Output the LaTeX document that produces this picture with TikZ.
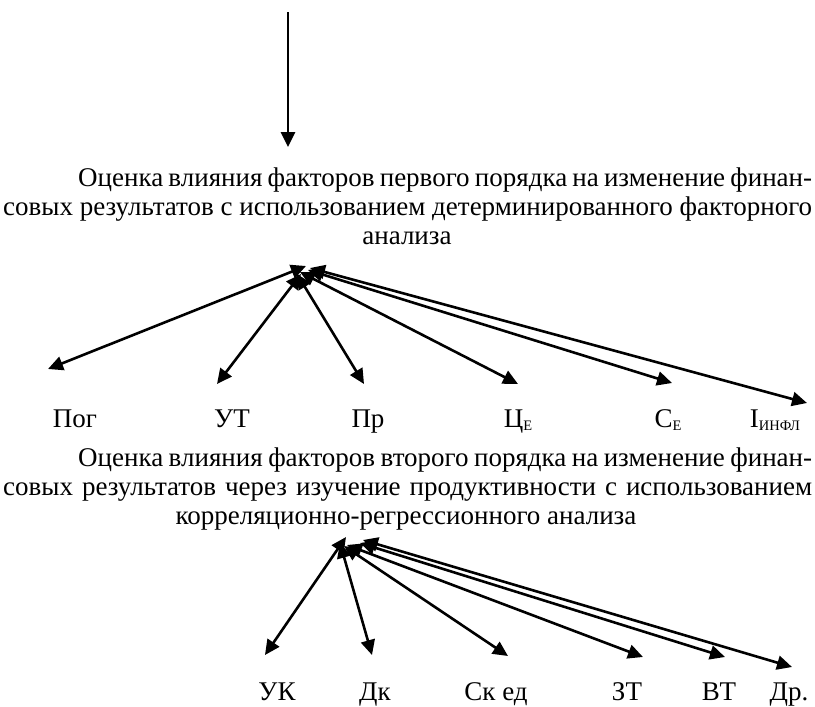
\documentclass[tikz,border=0pt]{standalone}
\usepackage{fontspec}
\setmainfont{Liberation Serif}
\usetikzlibrary{arrows.meta}
\newcommand{\sbs}[1]{\raisebox{-3.5pt}{\fontsize{14.5}{14.5}\selectfont #1}}
\tikzset{
  conn/.style={line width=2.6pt, {Triangle[length=15pt,width=14pt]}-{Triangle[length=15pt,width=14pt]}},
  oneway/.style={line width=2.6pt, -{Triangle[length=15pt,width=14pt]}},
  txt/.style={inner sep=0pt, anchor=base, font=\fontsize{27}{30}\selectfont},
  lbl/.style={inner sep=0pt, anchor=base, font=\fontsize{27}{30}\selectfont},
}
\begin{document}
\begin{tikzpicture}[x=1pt,y=-1pt]
\useasboundingbox (0,0) rectangle (815,707);
% top arrow
\coordinate (top) at (288,12);
\coordinate (topend) at (288,147);
\draw[oneway] (top) -- (topend);
% paragraph 1
\node[txt, anchor=base west] (p1a) at (78,186) {\makebox[734pt][s]{Оценка влияния факторов первого порядка на изменение финан-}};
\node[txt, anchor=base west] (p1b) at (3,215) {\makebox[809pt][s]{совых результатов с использованием детерминированного факторного}};
\node[txt] (p1c) at (407,244) {анализа};
% fan 1
\node[lbl] (pog) at (75,427) {Пог};
\node[lbl] (ut) at (232,427) {УТ};
\node[lbl] (pr) at (368,427) {Пр};
\node[lbl] (ce1) at (518,427) {Ц\sbs{Е}};
\node[lbl] (se1) at (668,427) {С\sbs{Е}};
\node[lbl] (inf) at (775,427) {I\sbs{ИНФЛ}};
\coordinate (h1a) at (306,266);
\coordinate (h1b) at (301,274);
\coordinate (h1c) at (297,274);
\coordinate (h1d) at (300,272);
\coordinate (h1e) at (308,270);
\coordinate (h1f) at (310,268);
\coordinate (e1a) at (48,369);
\coordinate (e1b) at (217,384);
\coordinate (e1c) at (364,384);
\coordinate (e1d) at (518,384);
\coordinate (e1e) at (672,383);
\coordinate (e1f) at (807,403);
\draw[conn] (h1a) -- (e1a);
\draw[conn] (h1b) -- (e1b);
\draw[conn] (h1c) -- (e1c);
\draw[conn] (h1d) -- (e1d);
\draw[conn] (h1e) -- (e1e);
\draw[conn] (h1f) -- (e1f);
% paragraph 2
\node[txt, anchor=base west] (p2a) at (78,466) {\makebox[734pt][s]{Оценка влияния факторов второго порядка на изменение финан-}};
\node[txt, anchor=base west] (p2b) at (3,495) {\makebox[809pt][s]{совых результатов через изучение продуктивности с использованием}};
\node[txt] (p2c) at (406,524) {корреляционно-регрессионного анализа};
% fan 2
\node[lbl] (uk) at (277,700) {УК};
\node[lbl] (dk) at (375,700) {Дк};
\node[lbl] (sk) at (496,700) {Ск ед};
\node[lbl] (zt) at (627,700) {ЗТ};
\node[lbl] (vt) at (719,700) {ВТ};
\node[lbl] (dr) at (789,700) {Др.};
\coordinate (h2a) at (346,537);
\coordinate (h2b) at (340,543);
\coordinate (h2c) at (344,546);
\coordinate (h2d) at (347,545);
\coordinate (h2e) at (360,543);
\coordinate (h2f) at (363,540);
\coordinate (e2a) at (265,655);
\coordinate (e2b) at (372,655);
\coordinate (e2c) at (508,656);
\coordinate (e2d) at (643,657);
\coordinate (e2e) at (725,657);
\coordinate (e2f) at (792,667);
\draw[conn] (h2a) -- (e2a);
\draw[conn] (h2b) -- (e2b);
\draw[conn] (h2c) -- (e2c);
\draw[conn] (h2d) -- (e2d);
\draw[conn] (h2e) -- (e2e);
\draw[conn] (h2f) -- (e2f);
\end{tikzpicture}
\end{document}
